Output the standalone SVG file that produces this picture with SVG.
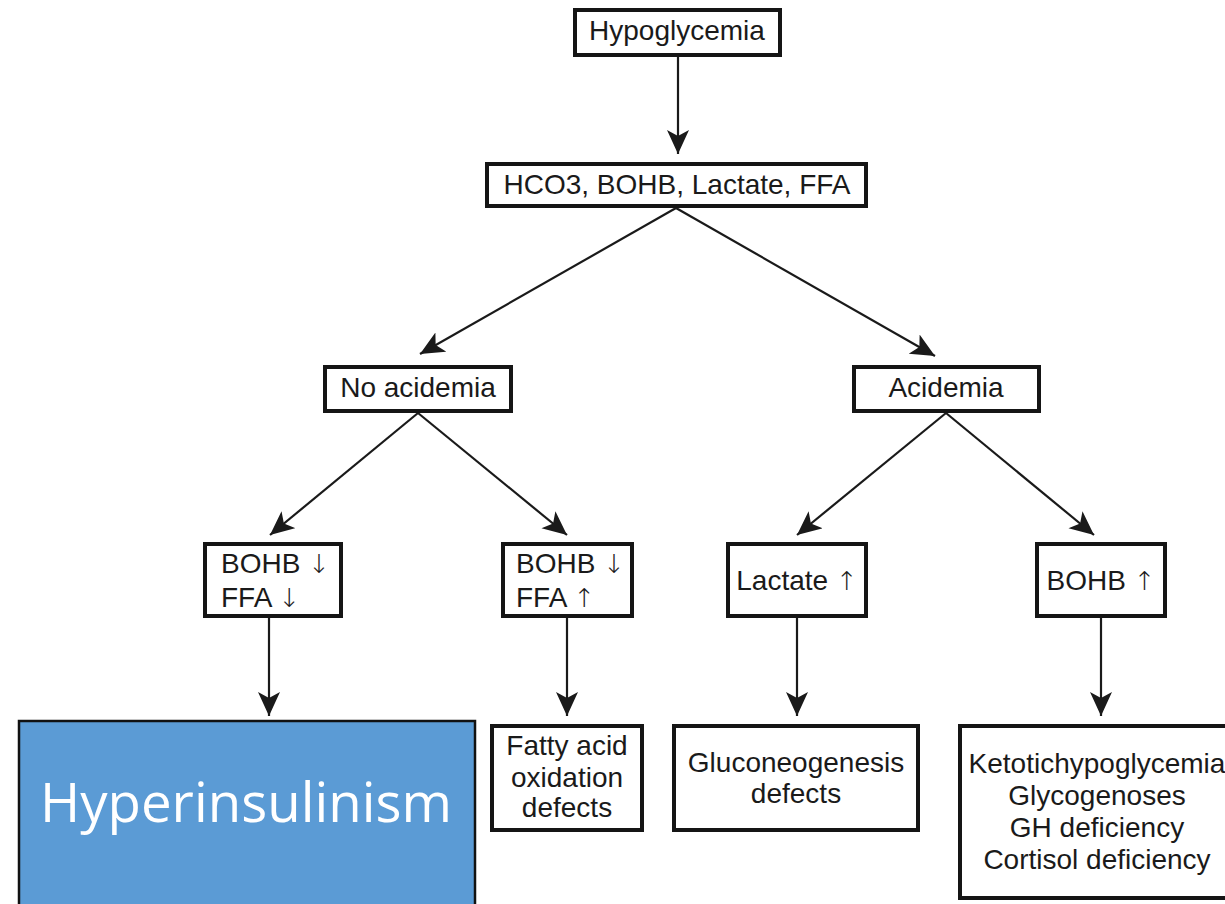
<svg xmlns="http://www.w3.org/2000/svg" width="1225" height="904" viewBox="0 0 1225 904">
<style>
.box{fill:#fff;stroke:#151515;stroke-width:4}
.t{font-family:"Liberation Sans",Arial,sans-serif;font-size:28px;fill:#1a1a1a}
.c{text-anchor:middle}
.ar{font-family:"DejaVu Sans",sans-serif;font-size:26px;font-weight:200}
.con{stroke:#1a1a1a;stroke-width:2.2;fill:none;marker-end:url(#ah)}
</style>
<defs>
<marker id="ah" markerUnits="userSpaceOnUse" markerWidth="26" markerHeight="24" refX="24" refY="11" orient="auto">
<path d="M0,0 L24,11 L0,22 L6,11 Z" fill="#1a1a1a"/>
</marker>
</defs>
<rect width="1225" height="904" fill="#fff"/>
<g id="connectors">
<line class="con" x1="678" y1="57" x2="678" y2="154"/>
<line class="con" x1="676" y1="208" x2="420" y2="354"/>
<line class="con" x1="676" y1="208" x2="935" y2="356"/>
<line class="con" x1="418" y1="413" x2="270" y2="535"/>
<line class="con" x1="418" y1="413" x2="567" y2="535"/>
<line class="con" x1="946" y1="413" x2="797" y2="535"/>
<line class="con" x1="946" y1="413" x2="1094" y2="535"/>
<line class="con" x1="269" y1="618" x2="269" y2="716"/>
<line class="con" x1="567" y1="618" x2="567" y2="716"/>
<line class="con" x1="797" y1="618" x2="797" y2="716"/>
<line class="con" x1="1101" y1="618" x2="1101" y2="716"/>
</g>
<g id="hypoglycemia"><rect class="box" x="575" y="10" width="205" height="45"/><text class="t c" x="677" y="40">Hypoglycemia</text></g>
<g id="tests"><rect class="box" x="487" y="164" width="379" height="42"/><text class="t c" x="677" y="194">HCO3, BOHB, Lactate, FFA</text></g>
<g id="no-acidemia"><rect class="box" x="325" y="367" width="186" height="44"/><text class="t c" x="418" y="397">No acidemia</text></g>
<g id="acidemia"><rect class="box" x="854" y="367" width="185" height="44"/><text class="t c" x="946" y="397">Acidemia</text></g>
<g id="bohb-down-ffa-down"><rect class="box" x="205" y="544" width="136" height="72"/><text class="t" x="221" y="573">BOHB <tspan class="ar">↓</tspan></text><text class="t" x="221" y="607">FFA <tspan class="ar">↓</tspan></text></g>
<g id="bohb-down-ffa-up"><rect class="box" x="503" y="544" width="129" height="72"/><text class="t" x="516" y="573">BOHB <tspan class="ar">↓</tspan></text><text class="t" x="516" y="607">FFA <tspan class="ar">↑</tspan></text></g>
<g id="lactate-up"><rect class="box" x="728" y="544" width="138" height="72"/><text class="t c" x="797" y="590">Lactate <tspan class="ar">↑</tspan></text></g>
<g id="bohb-up"><rect class="box" x="1037" y="544" width="128" height="72"/><text class="t c" x="1101" y="590">BOHB <tspan class="ar">↑</tspan></text></g>
<g id="hyperinsulinism"><rect x="19" y="721" width="456" height="200" fill="#5B9BD5" stroke="#111" stroke-width="2.5"/><text x="246" y="822" font-family="'Open Sans','Noto Sans',sans-serif" font-size="55" fill="#fff" text-anchor="middle" textLength="412" lengthAdjust="spacingAndGlyphs">Hyperinsulinism</text></g>
<g id="fatty-acid"><rect class="box" x="492" y="726" width="150" height="104"/><text class="t c" x="567" y="755">Fatty acid</text><text class="t c" x="567" y="787">oxidation</text><text class="t c" x="567" y="817">defects</text></g>
<g id="gluconeogenesis"><rect class="box" x="674" y="726" width="244" height="104"/><text class="t c" x="796" y="772">Gluconeogenesis</text><text class="t c" x="796" y="803">defects</text></g>
<g id="ketotic"><rect class="box" x="960" y="726" width="280" height="172"/><text class="t c" x="1097" y="773">Ketotichypoglycemia</text><text class="t c" x="1097" y="805">Glycogenoses</text><text class="t c" x="1097" y="837">GH deficiency</text><text class="t c" x="1097" y="869">Cortisol deficiency</text></g>
</svg>
